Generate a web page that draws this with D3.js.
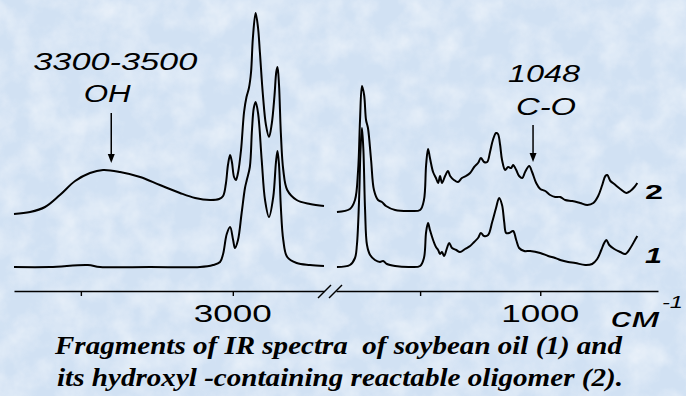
<!DOCTYPE html>
<html>
<head>
<meta charset="utf-8">
<script src="https://cdn.jsdelivr.net/npm/d3@7/dist/d3.min.js"></script>
<style>
  html, body { margin: 0; padding: 0; background: #d8e6f4; }
  svg { display: block; }
</style>
</head>
<body>
<div id="chart"></div>
<script>
// wavenumbers (cm-1) and relative absorbance
const hiWave = [3720, 3667, 3618, 3569, 3519, 3470, 3427, 3371, 3305, 3240, 3174, 3124, 3075, 3045, 3032, 3023, 3016, 3009, 3003, 2996, 2990, 2983, 2973, 2963, 2955, 2947, 2940, 2934, 2925, 2917, 2911, 2901, 2891, 2881, 2872, 2863, 2857, 2853, 2848, 2842, 2834, 2821, 2790, 2746, 2700]
const hiOligomer = [77, 79, 84, 96, 110, 118, 121, 119, 114, 106, 98, 93, 91, 92, 95, 107, 126, 136, 129, 114, 111, 118, 141, 179, 194, 203, 219, 253, 278, 263, 239, 196, 166, 154, 167, 195, 219, 224, 206, 158, 121, 101, 91, 87, 85]

const hiWaveOil = [3720, 3602, 3477, 3437, 3272, 3108, 3065, 3042, 3032, 3020, 3009, 2999, 2993, 2983, 2971, 2960, 2954, 2944, 2937, 2931, 2925, 2917, 2905, 2894, 2881, 2867, 2858, 2853, 2848, 2842, 2834, 2821, 2790, 2746, 2700]
const hiOil = [24, 24, 26, 24, 24, 24, 26, 29, 37, 57, 64, 51, 43, 51, 78, 103, 111, 124, 161, 183, 189, 178, 131, 91, 74, 94, 129, 140, 126, 84, 51, 34, 28, 26, 25]

const loWave = [1846, 1792, 1771, 1758, 1750, 1742, 1733, 1725, 1717, 1704, 1692, 1675, 1659, 1642, 1604, 1542, 1500, 1484, 1475, 1467, 1459, 1446, 1434, 1425, 1417, 1409, 1396, 1384, 1375, 1359, 1342, 1326, 1309, 1292, 1275, 1259, 1247, 1234, 1221, 1209, 1197, 1184, 1176, 1167, 1159, 1146, 1134, 1121, 1113, 1100, 1088, 1075, 1063, 1046, 1034, 1017, 1000, 979, 959, 938, 917, 896, 867, 834, 804, 779, 759, 742, 729, 721, 708, 692, 667, 642, 625, 608, 596]
const loOligomer = [79, 82, 91, 121, 171, 205, 196, 171, 163, 131, 101, 91, 89, 85, 81, 80, 81, 91, 126, 142, 133, 119, 113, 108, 115, 108, 115, 120, 115, 111, 109, 113, 115, 118, 124, 128, 133, 129, 129, 139, 151, 158, 157, 146, 131, 121, 124, 123, 126, 121, 115, 113, 119, 125, 119, 108, 102, 100, 96, 94, 94, 91, 90, 88, 86, 88, 95, 106, 115, 116, 110, 107, 102, 98, 100, 104, 108]

const loWaveOil = [1846, 1792, 1771, 1763, 1754, 1748, 1742, 1736, 1729, 1721, 1708, 1688, 1667, 1654, 1638, 1604, 1542, 1500, 1484, 1475, 1467, 1459, 1446, 1434, 1425, 1417, 1409, 1400, 1388, 1379, 1367, 1350, 1334, 1313, 1292, 1275, 1259, 1247, 1234, 1217, 1200, 1184, 1171, 1159, 1150, 1142, 1129, 1113, 1100, 1088, 1067, 1042, 1000, 967, 938, 917, 884, 854, 813, 784, 763, 746, 734, 725, 713, 692, 667, 646, 625, 608, 596]
const loOil = [24, 26, 33, 46, 91, 141, 163, 141, 81, 46, 36, 31, 29, 30, 27, 25, 24, 25, 33, 59, 68, 61, 51, 44, 41, 37, 39, 35, 43, 48, 43, 41, 39, 42, 45, 49, 53, 58, 55, 56, 69, 83, 93, 86, 69, 58, 58, 60, 51, 43, 40, 40, 38, 35, 33, 31, 29, 28, 26, 27, 32, 41, 48, 51, 46, 42, 39, 37, 43, 50, 55]

const hiTicks = [3500, 3000]
const loTicks = [1500, 1000]
const tickLabels = ['3000', '1000']

const annotations = [
  { part: 'hi', wave: 3400, lines: ['3300-3500', 'OH'] },
  { part: 'lo', wave: 1030, lines: ['1048', 'C-O'] }
]

const captionLines = [
  'Fragments of IR spectra  of soybean oil (1) and',
  'its hydroxyl -containing reactable oligomer (2).'
]

const width = 686
const height = 396
const axisY = 291

const svg = d3.select('#chart')
  .append('svg')
  .attr('width', width)
  .attr('height', height)

// mottled pale-blue backdrop
const defs = svg.append('defs')
const tex = defs.append('filter').attr('id', 'marble').attr('x', 0).attr('y', 0).attr('width', 1).attr('height', 1)
tex.append('feTurbulence').attr('type', 'fractalNoise').attr('baseFrequency', 0.035).attr('numOctaves', 4).attr('seed', 7)
tex.append('feColorMatrix').attr('type', 'matrix')
  .attr('values', '0 0 0 0 1  0 0 0 0 1  0 0 0 0 1  0 0 0 -1.6 1.05')

svg.append('rect').attr('width', width).attr('height', height).attr('fill', '#d1e1f3')
svg.append('rect').attr('width', width).attr('height', height).attr('fill', '#fff').attr('filter', 'url(#marble)').attr('opacity', 0.55)

const xHi = d3.scaleLinear().domain([3720, 2700]).range([14, 324])
const xLo = d3.scaleLinear().domain([1850, 510]).range([336, 658])
const y = d3.scaleLinear().domain([0, 280]).range([axisY, axisY - 280])

const sans = 'Liberation Sans, Arial, sans-serif'
const serif = 'Liberation Serif, Times New Roman, serif'

const line = (xs) => d3.line()
  .x((d) => xs(d[0]))
  .y((d) => y(d[1]))
  .curve(d3.curveCatmullRom.alpha(0.5))

const series = [
  [hiWave, hiOligomer, xHi],
  [hiWaveOil, hiOil, xHi],
  [loWave, loOligomer, xLo],
  [loWaveOil, loOil, xLo]
]

series.forEach(([waves, vals, xs]) => {
  svg.append('path')
    .datum(waves.map((w, i) => [w, vals[i]]))
    .attr('d', line(xs))
    .attr('fill', 'none')
    .attr('stroke', '#000')
    .attr('stroke-width', 2)
    .attr('stroke-linejoin', 'round')
})

// broken x axis
const drawAxis = (xs, ticks) => {
  const g = svg.append('g')
    .attr('transform', `translate(0,${axisY})`)
    .call(d3.axisBottom(xs).tickValues(ticks).tickSize(5).tickSizeOuter(0).tickFormat(''))
  g.select('.domain').attr('stroke', '#000').attr('stroke-width', 1.6)
  g.selectAll('.tick line').attr('stroke', '#000').attr('stroke-width', 1.4)
}
drawAxis(xHi, hiTicks)
drawAxis(xLo, loTicks)

const gapX = (xHi.range()[1] + xLo.range()[0]) / 2
;[-6, 5].forEach((dx) => {
  svg.append('line')
    .attr('x1', gapX + dx - 6).attr('y1', axisY + 7)
    .attr('x2', gapX + dx + 7).attr('y2', axisY - 6)
    .attr('stroke', '#000').attr('stroke-width', 1.4)
})

const tickText = (x, label) => {
  svg.append('text')
    .attr('x', x - 39)
    .attr('y', 322)
    .attr('font-family', sans)
    .attr('font-size', 23)
    .attr('textLength', 78)
    .attr('lengthAdjust', 'spacingAndGlyphs')
    .attr('fill', '#000')
    .text(label)
}
tickText(xHi(3000), tickLabels[0])
tickText(xLo(1000), tickLabels[1])

// unit
svg.append('text')
  .attr('x', 611).attr('y', 327)
  .attr('font-family', sans).attr('font-size', 27).attr('font-style', 'italic')
  .attr('textLength', 49).attr('lengthAdjust', 'spacingAndGlyphs')
  .text('см')
svg.append('text')
  .attr('x', 662).attr('y', 308)
  .attr('font-family', sans).attr('font-size', 16).attr('font-style', 'italic')
  .attr('textLength', 21).attr('lengthAdjust', 'spacingAndGlyphs')
  .text('-1')

// spectrum numbers
svg.append('text')
  .attr('x', 645).attr('y', 199)
  .attr('font-family', sans).attr('font-size', 20).attr('font-weight', 'bold')
  .attr('textLength', 18).attr('lengthAdjust', 'spacingAndGlyphs')
  .text('2')
svg.append('text')
  .attr('x', 645).attr('y', 263)
  .attr('font-family', sans).attr('font-size', 22).attr('font-style', 'italic').attr('font-weight', 'bold')
  .attr('textLength', 17).attr('lengthAdjust', 'spacingAndGlyphs')
  .text('1')

// band annotations with arrows
const annoLayout = [
  { top: 70, len: [164, 47], dx: [4, -4], size: [24, 23], gap: 32, arrow: [113, 163] },
  { top: 82, len: [72, 60], dx: [11, 13], size: [24, 23], gap: 33, arrow: [125, 162] }
]
annotations.forEach((a, i) => {
  const ax = (a.part === 'hi' ? xHi : xLo)(a.wave)
  const lay = annoLayout[i]
  a.lines.forEach((t, j) => {
    svg.append('text')
      .attr('x', ax - lay.len[j] / 2 + lay.dx[j])
      .attr('y', lay.top + j * lay.gap)
      .attr('font-family', sans).attr('font-size', lay.size[j]).attr('font-style', 'italic')
      .attr('textLength', lay.len[j]).attr('lengthAdjust', 'spacingAndGlyphs')
      .text(t)
  })
  svg.append('line')
    .attr('x1', ax).attr('x2', ax)
    .attr('y1', lay.arrow[0]).attr('y2', lay.arrow[1] - 6)
    .attr('stroke', '#000').attr('stroke-width', 1.5)
  svg.append('path')
    .attr('d', `M${ax - 3.5},${lay.arrow[1] - 9}L${ax + 3.5},${lay.arrow[1] - 9}L${ax},${lay.arrow[1]}Z`)
    .attr('fill', '#000')
})

// caption
captionLines.forEach((t, i) => {
  svg.append('text')
    .attr('x', 55 + i * 2)
    .attr('y', 354 + i * 32)
    .attr('font-family', serif).attr('font-size', 25)
    .attr('font-style', 'italic').attr('font-weight', 'bold')
    .attr('textLength', 567 - i * 1).attr('lengthAdjust', 'spacingAndGlyphs')
    .style('white-space', 'pre')
    .text(t)
})
</script>
</body>
</html>
